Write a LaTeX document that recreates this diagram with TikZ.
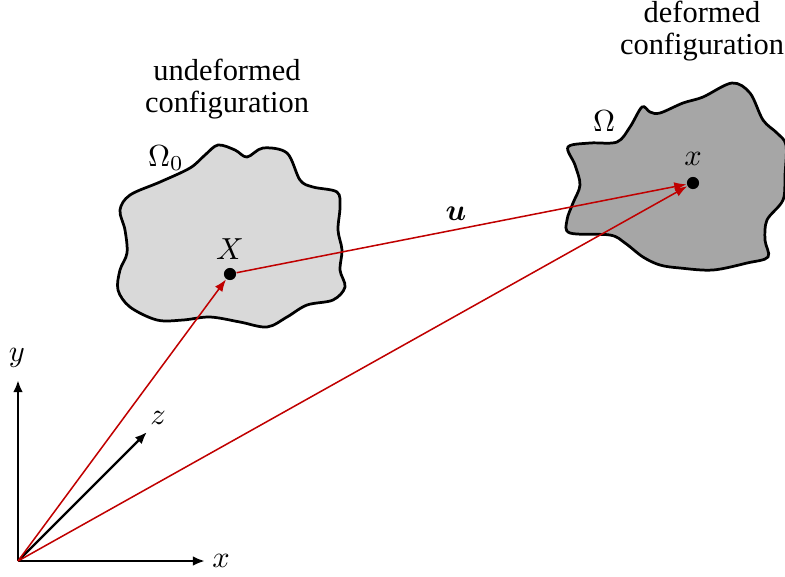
\documentclass[tikz,border=0pt]{standalone}
\usepackage[no-math]{fontspec}
\setmainfont{Liberation Serif}
\usepackage{bm}
\usetikzlibrary{arrows.meta,positioning}
\definecolor{darkred}{HTML}{C00000}
\definecolor{lightgray}{HTML}{D9D9D9}
\definecolor{midgray}{HTML}{A6A6A6}

\begin{document}
\begin{tikzpicture}[
    x=0.3286pt, y=-0.3286pt,
    body/.style={draw=black, line width=0.9pt},
    axis/.style={-{Latex[length=4pt,width=3.2pt]}, line width=0.8pt, color=black},
    vec/.style={-{Latex[length=4pt,width=3pt]}, line width=0.5pt, color=darkred},
    dot/.style={circle, fill=black, inner sep=0pt, minimum size=4pt},
    caption/.style={align=center, font=\fontsize{10}{10.8}\selectfont},
]
\useasboundingbox (0,0) rectangle (785,576);

% bodies
\draw[body, fill=lightgray] plot[smooth cycle, tension=0.55] coordinates {
    (120,210) (130,195) (160,182) (190,168) (205,155) (218,145) (235,150)
    (247,157) (263,148) (287,153) (300,180) (313,187) (337,192) (340,207)
    (338,230) (342,250) (340,270) (345,287) (333,300) (307,305) (287,317)
    (267,327) (240,322) (210,317) (183,320) (157,320) (130,307) (118,290)
    (120,270) (127,253) (125,230)};
\draw[body, fill=midgray] plot[smooth cycle, tension=0.55] coordinates {
    (568,147) (590,143) (617,142) (630,127) (642,107) (650,112) (660,113)
    (683,103) (703,97) (732,83) (750,93) (763,120) (777,133) (786,145)
    (785,175) (783,200) (767,220) (765,240) (768,257) (747,263) (713,270)
    (680,268) (660,265) (643,257) (625,243) (610,235) (570,233) (567,220)
    (573,203) (580,185) (575,165)};

\node[caption] (undef) at (227,89) {undeformed\\configuration};
\node[caption] (def) at (702,31) {deformed\\configuration};
\node (omega0) at (166,158) {$\Omega_0$};
\node (omega) at (604,121) {$\Omega$};

% points
\node[dot] (X) at (230,274) {};
\node[dot] (x) at (693,183) {};
\node[above=-1pt of X] (Xlabel) {$X$};
\node[above=0pt of x] (xlabel) {$x$};

% axes
\coordinate (O) at (18,561);
\coordinate (xend) at (205,561);
\coordinate (yend) at (18,380);
\coordinate (zend) at (147,432);
\draw[axis] (O) -- (xend);
\draw[axis] (O) -- (yend);
\draw[axis] (O) -- (zend);
\node (xaxis) at (221,561) {$x$};
\node (yaxis) at (17,358) {$y$};
\node (zaxis) at (158,418) {$z$};

% vectors
\draw[vec] (O) -- (X);
\draw[vec] (O) -- (x);
\draw[vec] (X) -- (x);
\node (u) at (456,214) {$\bm{u}$};

\end{tikzpicture}
\end{document}
